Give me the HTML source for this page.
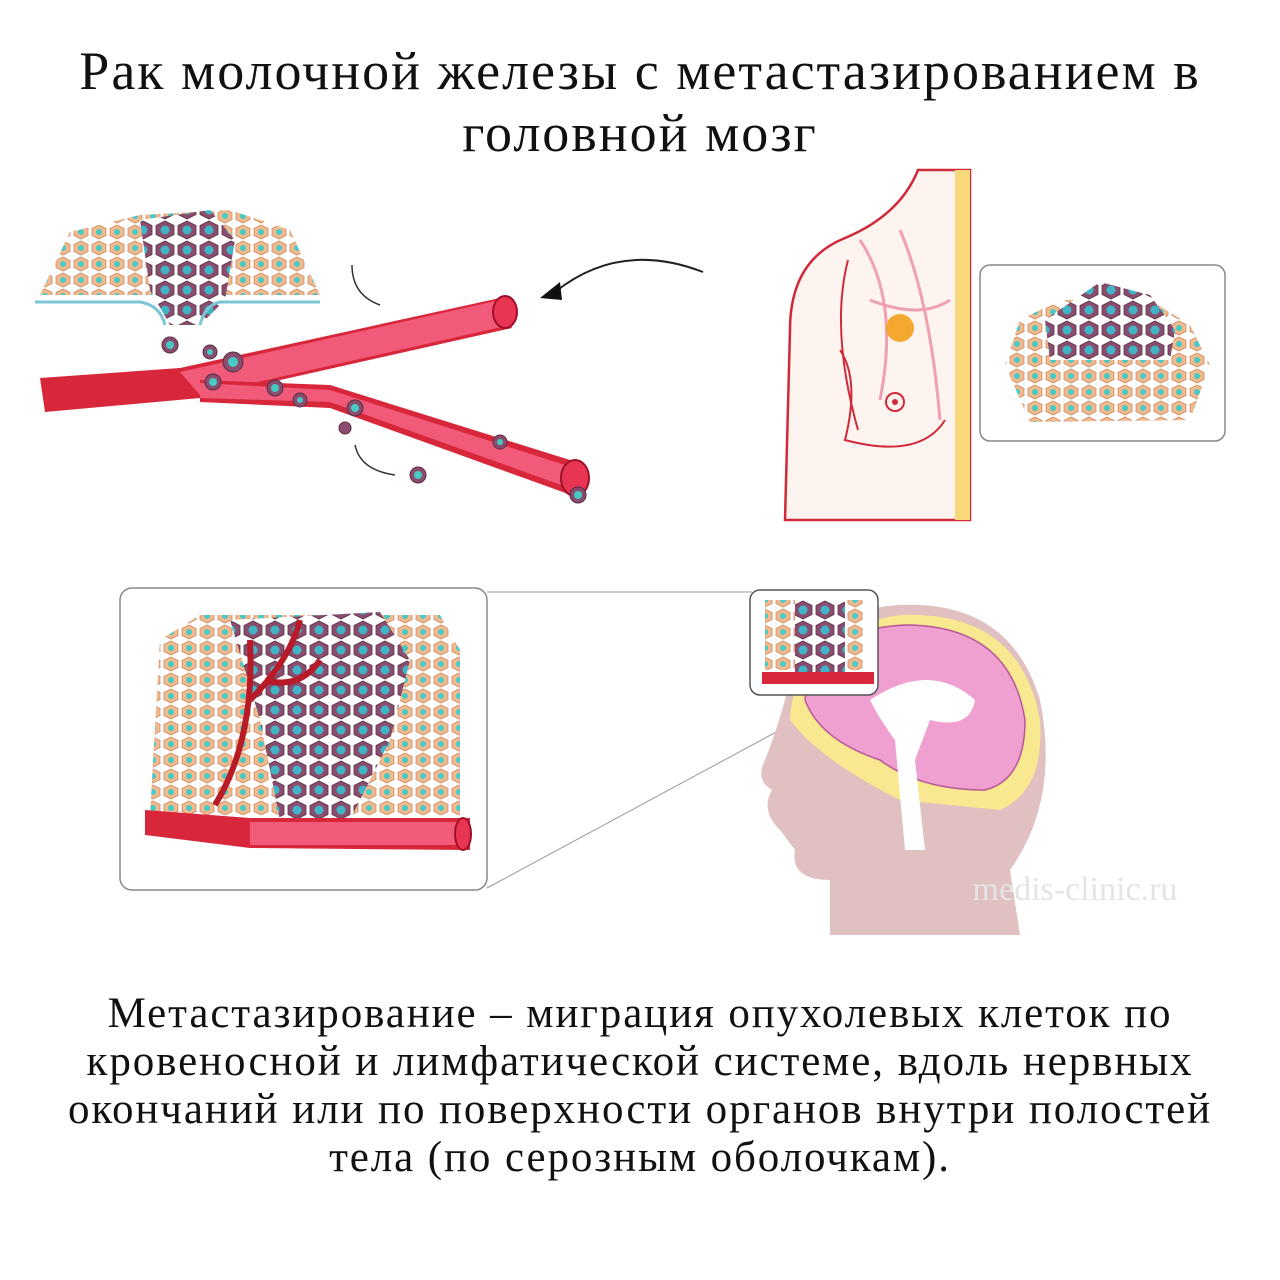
<!DOCTYPE html>
<html><head><meta charset="utf-8"><style>
html,body{margin:0;padding:0;background:#fff;}
.wrap{position:relative;width:1280px;height:1280px;overflow:hidden;}
.t{position:absolute;left:0;width:1280px;text-align:center;font-family:"Liberation Serif",serif;color:#111;}
svg{position:absolute;left:0;top:0;}
</style></head><body><div class="wrap">
<svg width="1280" height="1280" viewBox="0 0 1280 1280">
<defs>
<pattern id="hex" width="18" height="16" patternUnits="userSpaceOnUse">
<rect width="18" height="16" fill="#fff"/>
<polygon points="9,1 16,4.5 16,11.5 9,15 2,11.5 2,4.5" fill="#f2b98e" stroke="#c98a60" stroke-width="0.8"/>
<circle cx="9" cy="8" r="3" fill="#47c9c4"/>
</pattern>
<pattern id="dark" width="22" height="20" patternUnits="userSpaceOnUse">
<rect width="22" height="20" fill="#fff"/>
<polygon points="11,1 20,5.5 20,14.5 11,19 2,14.5 2,5.5" fill="#8a4d6e" stroke="#5a2d45" stroke-width="0.8"/>
<circle cx="11" cy="10" r="4.5" fill="#3fb6c7"/>
</pattern>
</defs>
<path d="M40,295 L70,232 L140,215 L230,210 L290,230 L320,295 Z" fill="url(#hex)"/>
<path d="M140,220 L210,210 L235,240 L225,300 L200,325 L170,325 L150,290 Z" fill="url(#dark)"/>
<path d="M35,302 L140,302 Q160,305 165,325" stroke="#7cc5d6" stroke-width="3" fill="none"/>
<path d="M320,302 L220,302 Q205,305 200,325" stroke="#7cc5d6" stroke-width="3" fill="none"/>
<path d="M40,378 L180,368 L500,298 L512,328 L200,398 L45,412 Z" fill="#d8273a"/>
<path d="M180,372 L500,300 L510,325 L200,395 Z" fill="#f25a7a"/>
<ellipse cx="505" cy="312" rx="12" ry="16" fill="#e83553" stroke="#a0102a" stroke-width="2"/>
<path d="M200,380 L330,385 L570,460 L585,500 L330,408 L200,402 Z" fill="#d8273a"/>
<path d="M200,383 L330,390 L565,465 L575,490 L330,402 L200,398 Z" fill="#f25a7a"/>
<ellipse cx="575" cy="478" rx="14" ry="18" fill="#e83553" stroke="#a0102a" stroke-width="2"/>
<g fill="#8a4d6e" stroke="#5a2d45"><circle cx="170" cy="345" r="8"/><circle cx="210" cy="352" r="7"/><circle cx="233" cy="362" r="10"/><circle cx="213" cy="382" r="8"/><circle cx="275" cy="388" r="8"/><circle cx="300" cy="400" r="7"/><circle cx="355" cy="408" r="8"/><circle cx="345" cy="428" r="6"/><circle cx="500" cy="442" r="7"/><circle cx="418" cy="475" r="8"/><circle cx="578" cy="495" r="8"/></g>
<g fill="#47c9c4"><circle cx="170" cy="345" r="4"/><circle cx="210" cy="352" r="3"/><circle cx="233" cy="362" r="5"/><circle cx="213" cy="382" r="4"/><circle cx="275" cy="388" r="4"/><circle cx="300" cy="400" r="3"/><circle cx="355" cy="408" r="4"/><circle cx="500" cy="442" r="3"/><circle cx="418" cy="475" r="4"/><circle cx="578" cy="495" r="4"/></g>
<path d="M352,265 Q352,295 380,305" stroke="#333" stroke-width="1.5" fill="none"/>
<path d="M355,445 Q360,470 395,475" stroke="#333" stroke-width="1.5" fill="none"/>
<path d="M703,272 Q620,240 555,292" stroke="#222" stroke-width="2" fill="none"/>
<polygon points="540,298 560,282 562,300" fill="#111"/>
<path d="M918,170 Q900,215 845,238 Q790,260 790,330 L785,520 L970,520 L970,170 Z" fill="#fdf4f0" stroke="#d02a3a" stroke-width="2.5"/>
<path d="M848,260 Q830,330 858,430" stroke="#d02a3a" stroke-width="2" fill="none"/>
<path d="M840,350 Q860,380 845,440 Q920,460 945,420" stroke="#d02a3a" stroke-width="2" fill="none"/>
<rect x="955" y="170" width="15" height="350" fill="#f8d878"/>
<path d="M860,240 Q900,300 880,400 M900,230 Q930,300 940,420 M870,300 Q920,320 950,300" stroke="#f0a0b0" stroke-width="3" fill="none"/>
<circle cx="900" cy="328" r="14" fill="#f4a830"/>
<circle cx="895" cy="402" r="9" fill="none" stroke="#d02a3a" stroke-width="2"/><circle cx="895" cy="402" r="3" fill="#d02a3a"/>
<rect x="980" y="265" width="245" height="176" rx="10" fill="#fff" stroke="#888" stroke-width="1.5"/>
<path d="M1005,365 L1020,320 L1060,300 L1150,300 L1190,325 L1210,365 L1190,420 L1030,422 Z" fill="url(#hex)"/>
<path d="M1045,320 L1100,282 L1150,295 L1175,330 L1170,360 L1050,360 Z" fill="url(#dark)"/>
<line x1="487" y1="592" x2="752" y2="592" stroke="#999"/>
<line x1="487" y1="888" x2="780" y2="730" stroke="#999"/>
<rect x="120" y="588" width="367" height="302" rx="12" fill="#fff" stroke="#888" stroke-width="1.5"/>
<path d="M160,640 L200,615 L440,615 L460,650 L460,815 L150,815 Z" fill="url(#hex)"/>
<path d="M230,620 L380,612 L410,660 L390,740 L350,820 L280,820 L260,720 Z" fill="url(#dark)"/>
<path d="M215,805 Q255,740 250,640 M250,700 Q290,660 300,620 M265,680 Q300,690 320,660" stroke="#b81a28" stroke-width="6" fill="none"/>
<path d="M145,810 L250,818 L470,818 L470,850 L250,848 L145,835 Z" fill="#d8273a"/>
<path d="M250,822 L465,822 L465,845 L250,845 Z" fill="#f25a7a"/>
<ellipse cx="463" cy="834" rx="8" ry="16" fill="#e83553" stroke="#a0102a" stroke-width="2"/>
<path d="M785,700 Q800,610 900,605 Q1010,600 1040,700 Q1060,800 1010,870 L1020,935 L830,935 L830,880 Q790,880 795,850 L780,830 Q760,810 772,790 Q755,780 765,760 Q775,735 785,700 Z" fill="#e0c0c0"/>
<path d="M790,720 Q795,630 900,615 Q1020,610 1040,720 Q1045,790 1000,810 L900,800 Q820,760 790,720 Z" fill="#f8e890"/>
<path d="M805,700 Q810,630 905,625 Q1010,625 1025,720 Q1025,780 985,790 Q920,790 880,760 Q820,740 805,700 Z" fill="#f0a0d0" stroke="#b85898" stroke-width="1.5"/>
<path d="M870,700 Q930,660 975,700 Q970,730 930,720 L915,760 L925,850 L905,850 L895,740 Q880,720 870,700 Z" fill="#fff"/>
<rect x="750" y="590" width="128" height="105" rx="10" fill="#fff" stroke="#555" stroke-width="1.5"/>
<rect x="765" y="600" width="100" height="70" fill="url(#hex)"/>
<rect x="795" y="600" width="50" height="72" fill="url(#dark)"/>
<rect x="762" y="672" width="112" height="12" fill="#d8273a"/>
<text x="1075" y="900" font-family="Liberation Serif,serif" font-size="34" fill="#e4e4e4" text-anchor="middle">medis-clinic.ru</text>
</svg>
<div class="t" style="top:40px;font-size:54px;line-height:62px;letter-spacing:2px;">Рак молочной железы с метастазированием в<br>головной мозг</div>
<div class="t" style="top:990px;font-size:43px;line-height:48px;letter-spacing:1.9px;">Метастазирование – миграция опухолевых клеток по<br>кровеносной и лимфатической системе, вдоль нервных<br>окончаний или по поверхности органов внутри полостей<br>тела (по серозным оболочкам).</div>
</div></body></html>
